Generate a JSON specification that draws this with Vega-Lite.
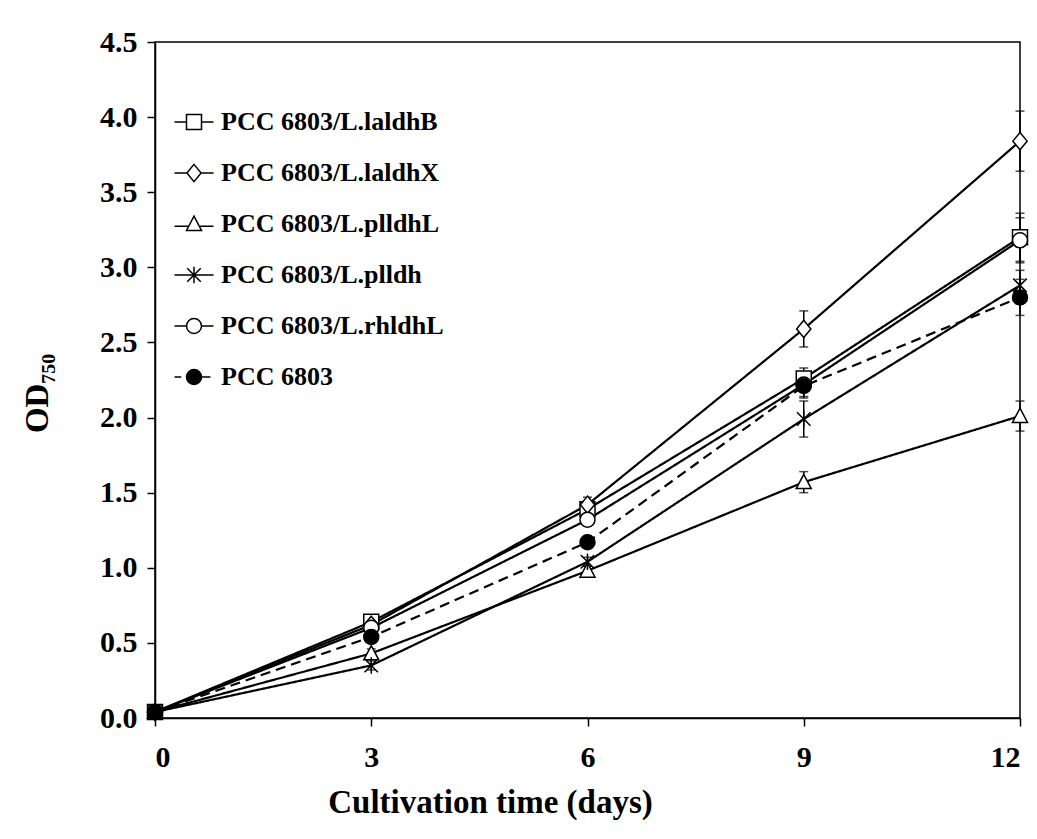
{
  "$schema": "https://vega.github.io/schema/vega-lite/v6.json",
  "width": 865,
  "height": 676,
  "autosize": {"type": "none"},
  "padding": {"left": 155, "top": 42, "right": 17, "bottom": 121},
  "background": "white",
  "config": {
    "view": {"stroke": "black", "strokeWidth": 1.5},
    "font": "Liberation Serif",
    "axis": {
      "grid": false,
      "domainColor": "black",
      "domainWidth": 1.5,
      "tickColor": "black",
      "tickWidth": 1.5,
      "tickSize": 8,
      "labelFont": "Liberation Serif",
      "labelFontWeight": "bold",
      "labelFontSize": 30,
      "labelColor": "black",
      "titleFont": "Liberation Serif",
      "titleFontWeight": "bold",
      "titleFontSize": 33,
      "titleColor": "black"
    },
    "legend": {
      "labelFont": "Liberation Serif",
      "labelFontWeight": "bold",
      "labelFontSize": 26,
      "labelColor": "black"
    }
  },
  "data": {
    "values": [
      {"series": "PCC 6803/L.laldhB", "day": 0, "od": 0.04, "err": 0.01},
      {"series": "PCC 6803/L.laldhB", "day": 3, "od": 0.64, "err": 0.03},
      {"series": "PCC 6803/L.laldhB", "day": 6, "od": 1.39, "err": 0.05},
      {"series": "PCC 6803/L.laldhB", "day": 9, "od": 2.26, "err": 0.07},
      {"series": "PCC 6803/L.laldhB", "day": 12, "od": 3.2, "err": 0.16},
      {"series": "PCC 6803/L.laldhX", "day": 0, "od": 0.04, "err": 0.01},
      {"series": "PCC 6803/L.laldhX", "day": 3, "od": 0.62, "err": 0.03},
      {"series": "PCC 6803/L.laldhX", "day": 6, "od": 1.42, "err": 0.05},
      {"series": "PCC 6803/L.laldhX", "day": 9, "od": 2.59, "err": 0.12},
      {"series": "PCC 6803/L.laldhX", "day": 12, "od": 3.84, "err": 0.2},
      {"series": "PCC 6803/L.plldhL", "day": 0, "od": 0.04, "err": 0.01},
      {"series": "PCC 6803/L.plldhL", "day": 3, "od": 0.43, "err": 0.03},
      {"series": "PCC 6803/L.plldhL", "day": 6, "od": 0.98, "err": 0.03},
      {"series": "PCC 6803/L.plldhL", "day": 9, "od": 1.57, "err": 0.07},
      {"series": "PCC 6803/L.plldhL", "day": 12, "od": 2.01, "err": 0.1},
      {"series": "PCC 6803/L.plldh", "day": 0, "od": 0.04, "err": 0.01},
      {"series": "PCC 6803/L.plldh", "day": 3, "od": 0.35, "err": 0.03},
      {"series": "PCC 6803/L.plldh", "day": 6, "od": 1.04, "err": 0.03},
      {"series": "PCC 6803/L.plldh", "day": 9, "od": 1.99, "err": 0.12},
      {"series": "PCC 6803/L.plldh", "day": 12, "od": 2.88, "err": 0.1},
      {"series": "PCC 6803/L.rhldhL", "day": 0, "od": 0.04, "err": 0.01},
      {"series": "PCC 6803/L.rhldhL", "day": 3, "od": 0.6, "err": 0.03},
      {"series": "PCC 6803/L.rhldhL", "day": 6, "od": 1.32, "err": 0.04},
      {"series": "PCC 6803/L.rhldhL", "day": 9, "od": 2.22, "err": 0.08},
      {"series": "PCC 6803/L.rhldhL", "day": 12, "od": 3.18, "err": 0.15},
      {"series": "PCC 6803", "day": 0, "od": 0.04, "err": 0.01},
      {"series": "PCC 6803", "day": 3, "od": 0.54, "err": 0.03},
      {"series": "PCC 6803", "day": 6, "od": 1.17, "err": 0.04},
      {"series": "PCC 6803", "day": 9, "od": 2.21, "err": 0.08},
      {"series": "PCC 6803", "day": 12, "od": 2.8, "err": 0.12}
    ]
  },
  "layer": [
    {
      "mark": {"type": "line", "color": "black", "strokeWidth": 2.2},
      "encoding": {
        "x": {"field": "day", "type": "quantitative", "title": "Cultivation time (days)", "scale": {"domain": [0, 12], "nice": false}, "axis": {"values": [0, 3, 6, 9, 12], "format": "d", "title": "Cultivation time (days)", "labelPadding": 16, "titlePadding": 14, "titleX": 335, "titleAlign": "center", "titleAnchor": null}},
        "y": {"field": "od", "type": "quantitative", "title": "OD₇₅₀", "scale": {"domain": [0, 4.5], "nice": false}, "axis": {"values": [0, 0.5, 1, 1.5, 2, 2.5, 3, 3.5, 4, 4.5], "format": ".1f", "title": "OD₇₅₀", "labelPadding": 10, "titlePadding": 45, "titleY": 351}},
        "detail": {"field": "series"},
        "strokeDash": {
          "field": "series", "type": "nominal", "legend": null,
          "scale": {
            "domain": ["PCC 6803/L.laldhB", "PCC 6803/L.laldhX", "PCC 6803/L.plldhL", "PCC 6803/L.plldh", "PCC 6803/L.rhldhL", "PCC 6803"],
            "range": [[1, 0], [1, 0], [1, 0], [1, 0], [1, 0], [10, 6]]
          }
        }
      }
    },
    {
      "transform": [
        {"calculate": "datum.od - datum.err", "as": "lo"},
        {"calculate": "datum.od + datum.err", "as": "hi"}
      ],
      "mark": {"type": "errorbar", "color": "black", "ticks": {"size": 9}, "thickness": 1.5},
      "encoding": {
        "x": {"field": "day", "type": "quantitative", "title": "Cultivation time (days)"},
        "y": {"field": "lo", "type": "quantitative", "title": "OD₇₅₀"},
        "y2": {"field": "hi"}
      }
    },
    {
      "mark": {"type": "point", "filled": true, "stroke": "black", "strokeWidth": 1.5, "opacity": 1, "size": 225},
      "encoding": {
        "x": {"field": "day", "type": "quantitative", "title": "Cultivation time (days)"},
        "y": {"field": "od", "type": "quantitative", "title": "OD₇₅₀"},
        "shape": {
          "field": "series", "type": "nominal", "legend": null,
          "scale": {
            "domain": ["PCC 6803/L.laldhB", "PCC 6803/L.laldhX", "PCC 6803/L.plldhL", "PCC 6803/L.plldh", "PCC 6803/L.rhldhL", "PCC 6803"],
            "range": [
              "M-1,-1H1V1H-1Z",
              "M0,-1.15L0.95,0L0,1.15L-0.95,0Z",
              "M0,-1.05L1,0.85H-1Z",
              "M-0.9,-0.9L0.9,0.9M-0.9,0.9L0.9,-0.9M0,-1.1V1.1",
              "M-1,0A1,1,0,1,0,1,0A1,1,0,1,0,-1,0Z",
              "M-1,0A1,1,0,1,0,1,0A1,1,0,1,0,-1,0Z"
            ]
          }
        },
        "fill": {
          "field": "series", "type": "nominal", "legend": null,
          "scale": {
            "domain": ["PCC 6803/L.laldhB", "PCC 6803/L.laldhX", "PCC 6803/L.plldhL", "PCC 6803/L.plldh", "PCC 6803/L.rhldhL", "PCC 6803"],
            "range": ["white", "white", "white", "white", "white", "black"]
          }
        }
      }
    },
    {
      "transform": [{"filter": "datum.day < 0"}],
      "mark": {"type": "point", "filled": true, "stroke": "black", "strokeWidth": 1.5, "opacity": 1, "size": 225},
      "encoding": {
        "x": {"field": "day", "type": "quantitative", "title": "Cultivation time (days)"},
        "y": {"field": "od", "type": "quantitative", "title": "OD₇₅₀"},
        "shape": {
          "field": "series", "type": "nominal",
          "legend": {
            "title": null, "orient": "none", "legendX": 26, "legendY": 67,
            "padding": 0, "rowPadding": 25, "labelOffset": 14,
            "symbolSize": 225, "symbolStrokeColor": "black", "symbolStrokeWidth": 1.5, "symbolOpacity": 1,
            "labelLimit": 400,
            "encode": {"symbols": {"update": {"stroke": {"value": "black"}, "strokeWidth": {"value": 1.5}, "opacity": {"value": 1}}}}
          },
          "scale": {
            "domain": ["PCC 6803/L.laldhB", "PCC 6803/L.laldhX", "PCC 6803/L.plldhL", "PCC 6803/L.plldh", "PCC 6803/L.rhldhL", "PCC 6803"],
            "range": [
              "M-1,-1H1V1H-1Z M-2.6,0H-1 M1,0H2.6",
              "M0,-1.15L0.95,0L0,1.15L-0.95,0Z M-2.6,0H-0.95 M0.95,0H2.6",
              "M0,-1.05L1,0.85H-1Z M-2.6,0.3H-0.8 M0.8,0.3H2.6",
              "M-0.9,-0.9L0.9,0.9M-0.9,0.9L0.9,-0.9M0,-1.1V1.1 M-2.6,0H2.6",
              "M-1,0A1,1,0,1,0,1,0A1,1,0,1,0,-1,0Z M-2.6,0H-1 M1,0H2.6",
              "M-1,0A1,1,0,1,0,1,0A1,1,0,1,0,-1,0Z M-2.6,0H-1.7 M1,0H2.2"
            ]
          }
        },
        "fill": {
          "field": "series", "type": "nominal",
          "legend": {
            "title": null, "orient": "none", "legendX": 26, "legendY": 67,
            "padding": 0, "rowPadding": 25, "labelOffset": 14,
            "symbolSize": 225, "symbolStrokeColor": "black", "symbolStrokeWidth": 1.5, "symbolOpacity": 1,
            "labelLimit": 400,
            "encode": {"symbols": {"update": {"stroke": {"value": "black"}, "strokeWidth": {"value": 1.5}, "opacity": {"value": 1}}}}
          },
          "scale": {
            "domain": ["PCC 6803/L.laldhB", "PCC 6803/L.laldhX", "PCC 6803/L.plldhL", "PCC 6803/L.plldh", "PCC 6803/L.rhldhL", "PCC 6803"],
            "range": ["white", "white", "white", "white", "white", "black"]
          }
        }
      }
    }
  ],
  "resolve": {"scale": {"shape": "independent", "fill": "independent"}}
}
